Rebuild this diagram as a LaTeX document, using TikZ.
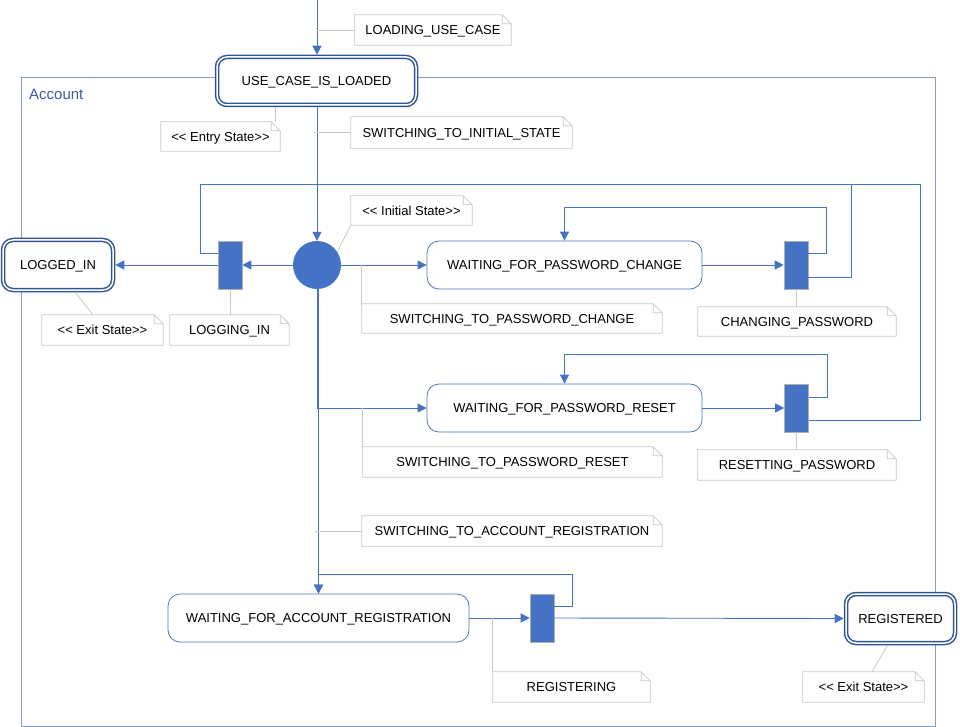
\documentclass[tikz,border=0pt]{standalone}
\usepackage{fontspec}
\setmainfont{Liberation Sans}
\usetikzlibrary{arrows.meta}
\definecolor{cblue}{HTML}{4472C4}
\definecolor{dblue}{HTML}{2F5597}
\definecolor{sblue}{HTML}{5076BC}
\definecolor{ngray}{HTML}{C8C8C8}
\definecolor{fgray}{HTML}{8A9CC6}
\definecolor{bgray}{HTML}{B0B0B0}
\definecolor{ablue}{HTML}{3C5C9C}
\newcommand\ltlt{<\kern0pt<}
\newcommand\gtgt{>\kern0pt>}
\begin{document}
\begin{tikzpicture}[x=1pt,y=-1pt,
 every node/.style={font=\fontsize{13}{15}\selectfont, inner sep=0pt, text depth=0pt},
 dstate/.style={draw=dblue, line width=1.5pt, double=white, double distance=1.5pt, fill=white, rounded corners=10pt, outer sep=2.3pt},
 sstate/.style={draw=sblue, line width=0.8pt, fill=white, rounded corners=12pt, minimum height=48pt},
 jbar/.style={draw=bgray, line width=0.6pt, fill=cblue, minimum width=24pt, minimum height=48pt},
 initst/.style={circle, fill=cblue, minimum size=48pt},
 notebox/.style={minimum height=30pt},
 notefold/.style={draw=ngray, line width=0.8pt},
 noteline/.style={draw=ngray, line width=0.8pt},
 conn/.style={draw=cblue, line width=0.9pt},
 arr/.style={conn, -{Triangle[length=9pt,width=9pt]}},
 frame/.style={draw=fgray, line width=1pt}
]
\useasboundingbox (0,0) rectangle (960,727);
% frame
\node[frame, minimum width=914pt, minimum height=648pt] (account) at (478,402) {};
\node[anchor=west, text=ablue, font=\fontsize{15}{18}\selectfont] (acclabel) at (29,94) {Account};
% states
\node[dstate, minimum width=199pt, minimum height=48pt] (ucl) at (316.5,81) {USE\_CASE\_IS\_LOADED};
\node[dstate, minimum width=110pt, minimum height=50pt] (loggedin) at (58,265) {LOGGED\_IN};
\node[dstate, minimum width=109pt, minimum height=49pt] (registered) at (900.5,618.5) {REGISTERED};
\node[sstate, minimum width=275pt] (wpc) at (564.5,265) {WAITING\_FOR\_PASSWORD\_CHANGE};
\node[sstate, minimum width=275pt] (wpr) at (564.5,408) {WAITING\_FOR\_PASSWORD\_RESET};
\node[sstate, minimum width=301pt] (war) at (318.5,618) {WAITING\_FOR\_ACCOUNT\_REGISTRATION};
\node[initst] (init) at (317,265) {};
\node[jbar] (lbar) at (230,265) {};
\node[jbar] (cbar) at (796,265) {};
\node[jbar] (rbar) at (796.5,408) {};
\node[jbar] (gbar) at (542,618) {};
% notes
\node[notebox, minimum width=156pt] (nload) at (433,30) {LOADING\_USE\_CASE};
\node[notebox, minimum width=119pt, minimum height=29pt] (nentry) at (220.5,136.5) {\ltlt{} Entry State\gtgt};
\node[notebox, minimum width=221pt, minimum height=31pt] (nsinit) at (461.5,132.5) {SWITCHING\_TO\_INITIAL\_STATE};
\node[notebox, minimum width=121pt, minimum height=29pt] (ninit) at (411.5,210.5) {\ltlt{} Initial State\gtgt};
\node[notebox, minimum width=121pt] (nexit1) at (102.5,330) {\ltlt{} Exit State\gtgt};
\node[notebox, minimum width=119pt] (nlogin) at (229.5,330) {LOGGING\_IN};
\node[notebox, minimum width=300pt, minimum height=29pt] (nspc) at (512,318.5) {SWITCHING\_TO\_PASSWORD\_CHANGE};
\node[notebox, minimum width=198pt, minimum height=29pt] (ncp) at (797,321.5) {CHANGING\_PASSWORD};
\node[notebox, minimum width=299pt] (nspr) at (512.5,462) {SWITCHING\_TO\_PASSWORD\_RESET};
\node[notebox, minimum width=198pt] (nrp) at (797,465) {RESETTING\_PASSWORD};
\node[notebox, minimum width=300pt] (nsar) at (512,531) {SWITCHING\_TO\_ACCOUNT\_REGISTRATION};
\node[notebox, minimum width=157pt] (nreg) at (571.5,687) {REGISTERING};
\node[notebox, minimum width=121pt] (nexit2) at (863.5,687) {\ltlt{} Exit State\gtgt};
% connectors
\coordinate (ctop) at (317,0);
\draw[arr] (ctop) -- (ctop |- ucl.north);
\draw[arr] (init.north |- ucl.south) -- (init.north);
\draw[arr] (init.west) -- (lbar.east);
\draw[arr] (lbar.west) -- (loggedin.east);
\draw[arr] (init.east) -- (wpc.west);
\draw[arr] (wpc.east) -- (cbar.west);
\draw[arr] ([yshift=12pt]cbar.east) -| (826,207) -| (wpc.north);
\draw[conn] ([yshift=-12pt]cbar.east) -| (851,184);
\draw[conn] ([yshift=-12pt]rbar.east) -| (920,184) -- (200,184) |- ([yshift=12pt]lbar.west);
\draw[arr] (init.south) |- (wpr.west);
\draw[arr] (wpr.east) -- (rbar.west);
\draw[arr] ([yshift=11pt]rbar.east) -| (827,354) -| (wpr.north);
\draw[arr] (init.south -| war.north) -- (war.north);
\draw[arr] (war.east) -- (gbar.west);
\draw[arr] ([yshift=12pt]gbar.east) -| (572,574) -| (war.north);
\draw[arr] (gbar.east) -- (registered.west);
% note connectors
\draw[noteline] (ctop |- nload.west) -- (nload.west);
\draw[noteline] ([xshift=55pt]nentry.north) -- ([xshift=55pt]nentry.north |- ucl.south);
\draw[noteline] ([xshift=-3pt]ucl.south |- nsinit.west) -- (nsinit.west);
\draw[noteline] (init.33) -- (ninit.south west);
\draw[noteline] ([xshift=17pt]loggedin.south) -- ([xshift=-9.5pt]nexit1.north);
\draw[noteline] (lbar.south) -- (lbar.south |- nlogin.north);
\draw[noteline] (nspc.north west |- init.east) -- (nspc.north west);
\draw[noteline] (cbar.south) -- (cbar.south |- ncp.north);
\draw[noteline] (nspr.north west |- wpr.west) -- (nspr.north west);
\draw[noteline] (rbar.south) -- (rbar.south |- nrp.north);
\draw[noteline] ([xshift=-4pt]war.north |- nsar.west) -- (nsar.west);
\draw[noteline] (nreg.north west |- war.east) -- (nreg.north west);
\draw[noteline] ([xshift=-13pt]registered.south) -- ([xshift=8.5pt]nexit2.north);
% note outlines with folded corner
\foreach \n in {nload,nentry,nsinit,ninit,nexit1,nlogin,nspc,ncp,nspr,nrp,nsar,nreg,nexit2}
  \draw[notefold] (\n.south west) -- (\n.north west) -- ([xshift=-9pt]\n.north east)
    -- ([yshift=-9pt]\n.north east) -- (\n.south east) -- cycle
    ([xshift=-9pt]\n.north east) -- ++(0pt,-9pt) -- ([yshift=-9pt]\n.north east);
\end{tikzpicture}
\end{document}
